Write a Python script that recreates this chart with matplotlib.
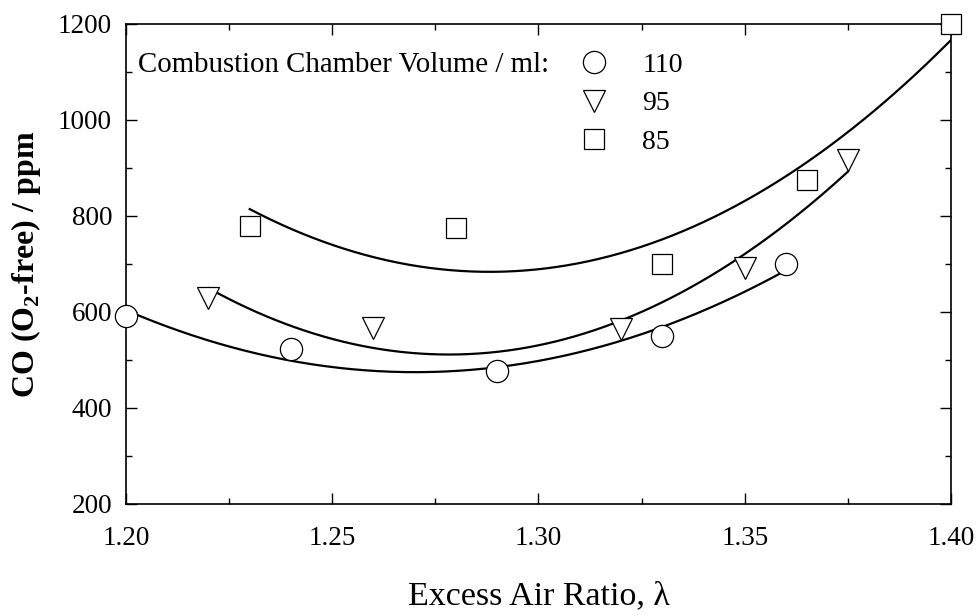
import numpy as np
import matplotlib
matplotlib.use("Agg")
import matplotlib.pyplot as plt
from matplotlib.ticker import MultipleLocator, FormatStrFormatter

plt.rcParams["font.family"] = ["Liberation Serif", "DejaVu Serif"]
plt.rcParams["mathtext.fontset"] = "custom"
plt.rcParams["mathtext.rm"] = "Liberation Serif"
plt.rcParams["mathtext.bf"] = "Liberation Serif:bold"

# ---------- data ----------
lam_110 = [1.20, 1.24, 1.29, 1.33, 1.36]
co_110 = [592, 523, 478, 550, 700]

lam_95 = [1.22, 1.26, 1.32, 1.35, 1.375]
co_95 = [630, 566, 565, 692, 917]

lam_85 = [1.23, 1.28, 1.33, 1.365, 1.40]
co_85 = [780, 776, 699, 875, 1200]

labels = ["110", "95", "85"]
markers = ["o", "v", "s"]
msizes = [16, 16, 14]

series = [(lam_110, co_110), (lam_95, co_95), (lam_85, co_85)]

fig = plt.figure(figsize=(9.78, 6.15), dpi=100)
ax = fig.add_axes([0.1288, 0.1805, 0.8436, 0.7805])

handles = []
for (x, y), mk, ms in zip(series, markers, msizes):
    x = np.asarray(x)
    y = np.asarray(y)
    # 2nd-order regression like the original
    c = np.polyfit(x, y, 2)
    xl = np.linspace(x.min(), x.max(), 200)
    ax.plot(xl, np.polyval(c, xl), "-", color="black", lw=1.6, zorder=2)
    h, = ax.plot(x, y, mk, ms=ms, mfc="white", mec="black", mew=0.9,
                 ls="none", zorder=3, clip_on=False)
    handles.append(h)

ax.set_xlim(1.20, 1.40)
ax.set_ylim(200, 1200)
ax.xaxis.set_major_locator(MultipleLocator(0.05))
ax.xaxis.set_minor_locator(MultipleLocator(0.025))
ax.xaxis.set_major_formatter(FormatStrFormatter("%.2f"))
ax.yaxis.set_major_locator(MultipleLocator(200))
ax.yaxis.set_minor_locator(MultipleLocator(100))

ax.tick_params(which="both", direction="in", top=True, right=True,
               labelsize=19.5, width=1.0)
ax.tick_params(which="major", length=8)
ax.tick_params(which="minor", length=4)
ax.tick_params(axis="x", which="major", pad=16)
ax.tick_params(axis="y", which="major", pad=10)
for sp in ax.spines.values():
    sp.set_linewidth(1.2)

ax.set_xlabel("Excess Air Ratio, λ", fontsize=24.5)
ax.set_ylabel(r"CO (O$_{\mathbf{2}}$-free) / ppm", fontsize=23, fontweight="bold")
ax.xaxis.set_label_coords(0.5, -0.16)
ax.yaxis.set_label_coords(-0.10, 0.5)

ax.text(0.015, 0.915, "Combustion Chamber Volume / ml:", transform=ax.transAxes,
        fontsize=20.8, va="center", ha="left")
ax.legend(handles, labels, loc="upper left", bbox_to_anchor=(0.55, 0.941),
          frameon=False, fontsize=20, handlelength=1.0, handletextpad=1.25,
          labelspacing=0.47, borderaxespad=0, borderpad=0)

fig.savefig("out.png", dpi=100)
